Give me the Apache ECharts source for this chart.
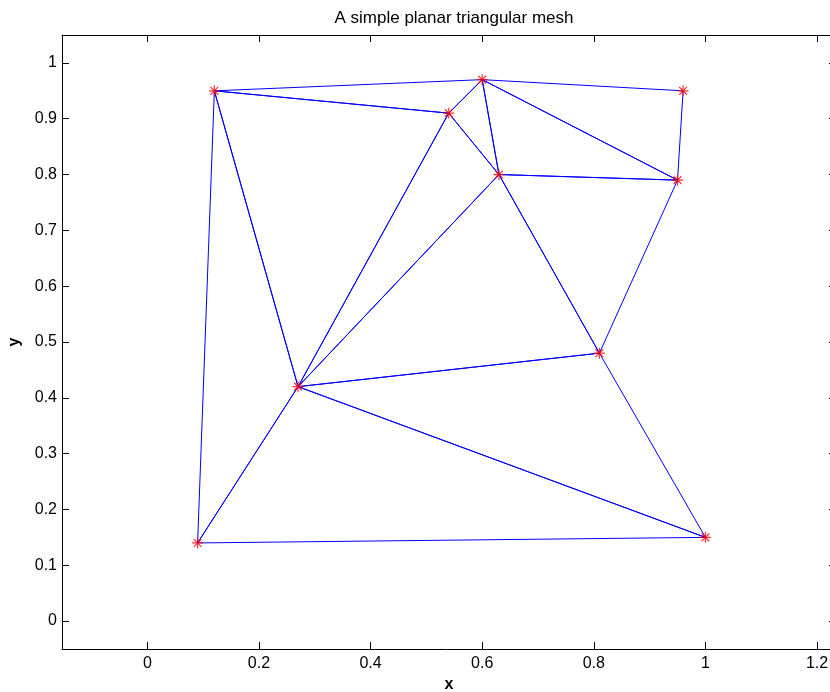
<!DOCTYPE html>
<html><head><meta charset="utf-8">
<script src="https://cdn.jsdelivr.net/npm/echarts@6/dist/echarts.min.js"></script>
<style>html,body{margin:0;padding:0;background:#fff}#c{width:830px;height:692px}</style>
</head><body><div id="c"></div>
<script>
// Mesh node coordinates
const nodeX = [0.12, 0.60, 0.96, 0.54, 0.63, 0.95, 0.81, 0.27, 0.09, 1.00];
const nodeY = [0.95, 0.97, 0.95, 0.91, 0.80, 0.79, 0.48, 0.42, 0.14, 0.15];
// Triangles as node index triples
const triangles = [[0,1,3],[1,3,4],[1,4,5],[1,2,5],[4,5,6],[0,3,7],[3,4,7],[4,6,7],[6,7,9],[7,8,9],[0,7,8]];
// Tick labels
const xTicks = [0, 0.2, 0.4, 0.6, 0.8, 1, 1.2];
const yTicks = [0, 0.1, 0.2, 0.3, 0.4, 0.5, 0.6, 0.7, 0.8, 0.9, 1];
const titleText = 'A simple planar triangular mesh';
const xName = 'x';
const yName = 'y';

const FONT = 'Liberation Sans, Arial, Helvetica, sans-serif';
const X_MIN = -0.153, X_MAX = 1.234, Y_MIN = -0.05, Y_MAX = 1.05;

const chart = echarts.init(document.getElementById('c'), null, {renderer: 'canvas'});

const series = triangles.map(t => ({
  type: 'line',
  xAxisIndex: 0, yAxisIndex: 0,
  data: [t[0], t[1], t[2], t[0]].map(i => [nodeX[i], nodeY[i]]),
  showSymbol: false,
  symbol: 'none',
  lineStyle: {color: '#0000ff', width: 1},
  silent: true,
  z: 2
}));
series.push({
  type: 'scatter',
  xAxisIndex: 0, yAxisIndex: 0,
  data: nodeX.map((x, i) => [x, nodeY[i]]),
  symbol: 'path://M5,0L5,10M0,5L10,5M1.46,1.46L8.54,8.54M1.46,8.54L8.54,1.46',
  symbolSize: 11,
  itemStyle: {color: 'rgba(0,0,0,0)', borderColor: '#ff0000', borderWidth: 1.2},
  silent: true,
  z: 5
});

const axisCommon = {
  axisLine: {show: true, onZero: false, lineStyle: {color: '#000', width: 1}},
  splitLine: {show: false},
};

chart.setOption({
  animation: false,
  backgroundColor: '#fff',
  title: {
    text: titleText,
    left: 449, top: 5, textAlign: 'center',
    textStyle: {fontFamily: FONT, fontSize: 17, fontWeight: 'normal', color: '#000'}
  },
  grid: {left: 62, top: 35, width: 774, height: 614, containLabel: false, outerBoundsMode: 'none'},
  xAxis: [
    Object.assign({
      type: 'value', min: X_MIN, max: X_MAX, position: 'bottom',
      axisTick: {show: true, inside: true, length: 7, customValues: xTicks, lineStyle: {color: '#000'}},
      axisLabel: {show: true, customValues: xTicks, margin: 7, color: '#000', fontFamily: FONT, fontSize: 16},
      name: xName, nameLocation: 'middle', nameGap: 28,
      nameTextStyle: {fontFamily: FONT, fontSize: 16, fontWeight: 'bold', color: '#000'}
    }, axisCommon),
    Object.assign({
      type: 'value', min: X_MIN, max: X_MAX, position: 'top',
      axisTick: {show: true, inside: true, length: 7, customValues: xTicks, lineStyle: {color: '#000'}},
      axisLabel: {show: false}
    }, axisCommon)
  ],
  yAxis: [
    Object.assign({
      type: 'value', min: Y_MIN, max: Y_MAX, position: 'left',
      axisTick: {show: true, inside: true, length: 7, customValues: yTicks, lineStyle: {color: '#000'}},
      axisLabel: {show: true, customValues: yTicks, margin: 5, color: '#000', fontFamily: FONT, fontSize: 16},
      name: yName, nameLocation: 'middle', nameGap: 39,
      nameTextStyle: {fontFamily: FONT, fontSize: 16, fontWeight: 'bold', color: '#000'}
    }, axisCommon),
    Object.assign({
      type: 'value', min: Y_MIN, max: Y_MAX, position: 'right',
      axisTick: {show: true, inside: true, length: 7, customValues: yTicks, lineStyle: {color: '#000'}},
      axisLabel: {show: false}
    }, axisCommon)
  ],
  series: series
});
</script>
</body></html>
